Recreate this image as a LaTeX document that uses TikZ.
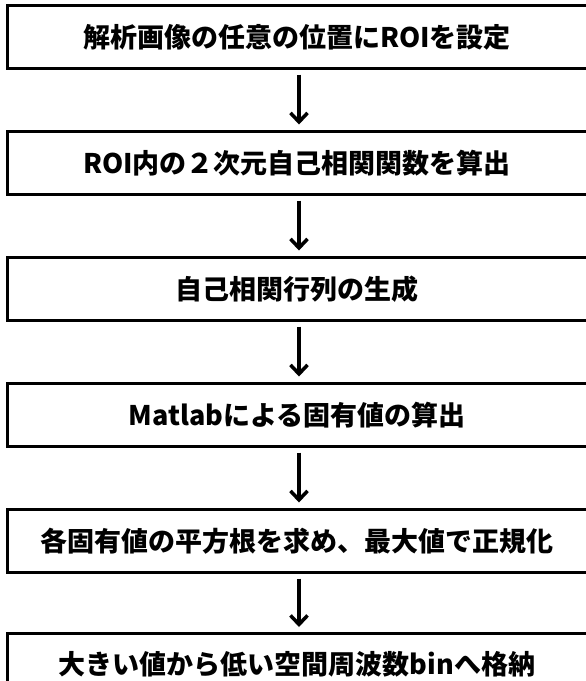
\documentclass[tikz,border=0pt]{standalone}
\usepackage{fontspec}
\setmainfont{Noto Sans CJK JP}
\usetikzlibrary{arrows.meta}
\tikzset{
  stepbox/.style={draw=black, line width=3pt, rectangle, minimum width=584pt, minimum height=63pt, inner sep=0pt, fill=white},
  steptext/.style={font=\fontsize{27}{30}\selectfont\bfseries, inner sep=0pt},
  arr/.style={line width=3.2pt, -{Straight Barb[length=9pt,width=17pt,line width=0pt 1.1 1,sharp]}, shorten <=5pt, shorten >=5pt}
}
\begin{document}
\begin{tikzpicture}[x=1pt,y=-1pt]
\clip (0,0) rectangle (586,681);
\fill[white] (0,0) rectangle (586,681);
\node[stepbox] (b1) at (299,36.5) {};
\node[stepbox] (b2) at (299,162.5) {};
\node[stepbox] (b3) at (299,288.5) {};
\node[stepbox] (b4) at (299,414.5) {};
\node[stepbox] (b5) at (299,540.5) {};
\node[stepbox] (b6) at (299,665) {};
\node[steptext] (t1) at (297,37) {解析画像の任意の位置にROIを設定};
\node[steptext] (t2) at (297,163) {ROI内の２次元自己相関関数を算出};
\node[steptext] (t3) at (297,289) {自己相関行列の生成};
\node[steptext] (t4) at (297,415) {Matlabによる固有値の算出};
\node[steptext] (t5) at (297,541) {各固有値の平方根を求め、最大値で正規化};
\node[steptext] (t6) at (297,664) {大きい値から低い空間周波数binへ格納};
\draw[arr] (b1) -- (b2);
\draw[arr] (b2) -- (b3);
\draw[arr] (b3) -- (b4);
\draw[arr] (b4) -- (b5);
\draw[arr] (b5) -- (b6);
\end{tikzpicture}
\end{document}
